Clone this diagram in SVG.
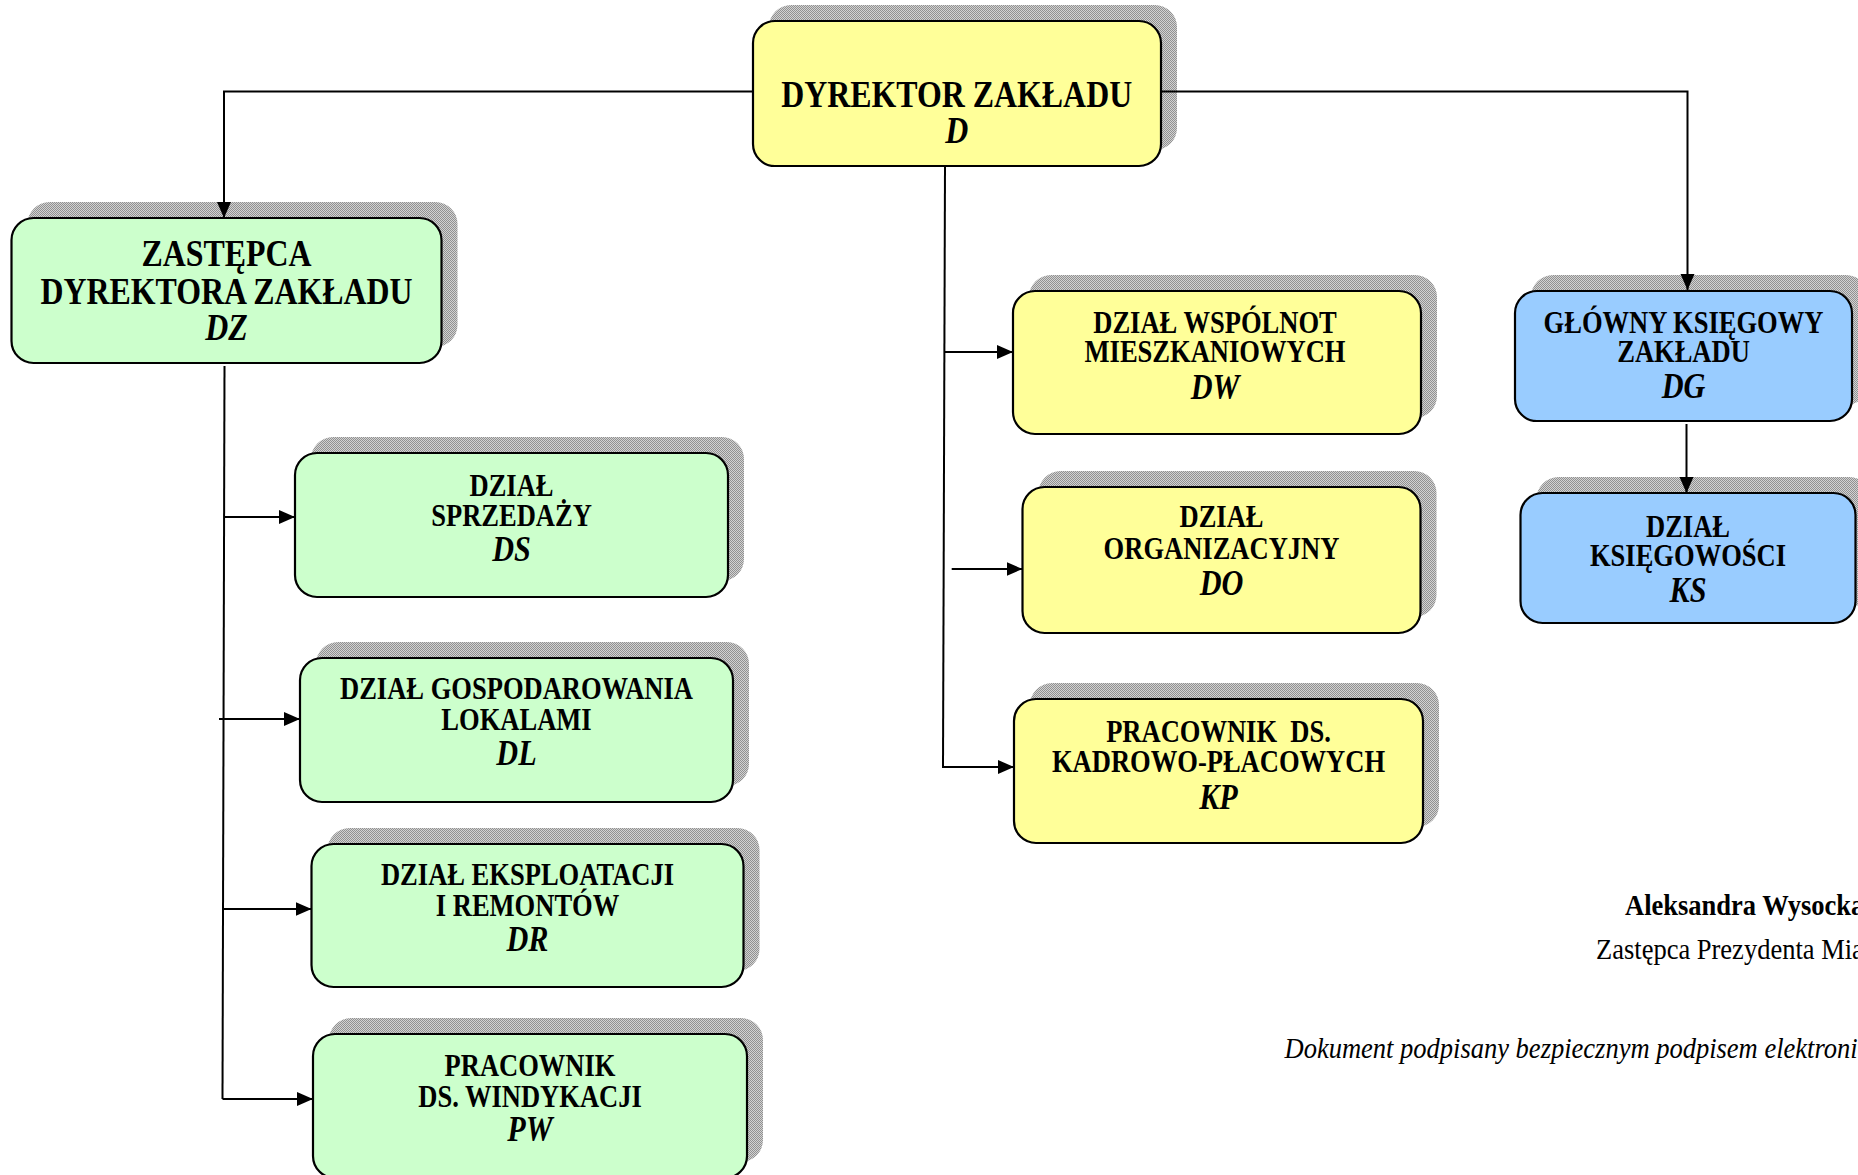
<svg xmlns="http://www.w3.org/2000/svg" width="1858" height="1175" viewBox="0 0 1858 1175">
<defs>
<pattern id="dots" width="2" height="2" patternUnits="userSpaceOnUse">
<rect width="2" height="2" fill="#d2d2d2"/>
<rect width="1" height="1" fill="#919191"/>
<rect x="1" y="1" width="1" height="1" fill="#919191"/>
</pattern>
<marker id="arr" markerUnits="userSpaceOnUse" markerWidth="17" markerHeight="15" refX="16" refY="7" orient="auto">
<path d="M0,0 L16,7 L0,14 z" fill="#000"/>
</marker>
<style>
.sh{fill:url(#dots);}
.bx{stroke:#000;stroke-width:2.2;}
.y{fill:#FFFF99;}
.g{fill:#CCFFCC;}
.b{fill:#99CCFF;}
text{font-family:"Liberation Serif","Times New Roman",serif;fill:#000;}
.c{text-anchor:middle;}
.t{font-weight:bold;font-size:31px;}
.tb{font-weight:bold;font-size:37.5px;}
.k{font-weight:bold;font-style:italic;font-size:36px;}
.kb{font-weight:bold;font-style:italic;font-size:38px;}
.ln{fill:none;stroke:#000;stroke-width:2;}
.sig{font-size:29.8px;}
</style>
</defs>
<rect width="1858" height="1175" fill="#fff"/>

<g id="D">
<rect class="sh" x="769" y="5" width="408" height="145" rx="22"/>
<rect class="bx y" x="753" y="21" width="408" height="145" rx="22"/>
<text class="c tb" transform="translate(956.7 106.5) scale(0.85 1)">DYREKTOR ZAKŁADU</text>
<text class="c kb" transform="translate(956.7 142.5) scale(0.84 1)">D</text>
</g>

<g id="DZ">
<rect class="sh" x="27.5" y="202" width="430" height="145" rx="22"/>
<rect class="bx g" x="11.5" y="218" width="430" height="145" rx="22"/>
<text class="c tb" transform="translate(226.5 265.5) scale(0.85 1)">ZASTĘPCA</text>
<text class="c tb" transform="translate(226.5 304) scale(0.85 1)">DYREKTORA ZAKŁADU</text>
<text class="c kb" transform="translate(226.5 340) scale(0.84 1)">DZ</text>
</g>

<g id="DS">
<rect class="sh" x="311" y="437" width="433" height="144" rx="22"/>
<rect class="bx g" x="295" y="453" width="433" height="144" rx="22"/>
<text class="c t" transform="translate(511.5 495.7) scale(0.856 1)">DZIAŁ</text>
<text class="c t" transform="translate(511.5 525.7) scale(0.856 1)">SPRZEDAŻY</text>
<text class="c k" transform="translate(511.5 560.5) scale(0.84 1)">DS</text>
</g>

<g id="DL">
<rect class="sh" x="316" y="642" width="433" height="144" rx="22"/>
<rect class="bx g" x="300" y="658" width="433" height="144" rx="22"/>
<text class="c t" transform="translate(516.5 699.3) scale(0.856 1)">DZIAŁ GOSPODAROWANIA</text>
<text class="c t" transform="translate(516.5 730) scale(0.856 1)">LOKALAMI</text>
<text class="c k" transform="translate(516.5 764.5) scale(0.84 1)">DL</text>
</g>

<g id="DR">
<rect class="sh" x="327.5" y="828" width="432" height="143" rx="22"/>
<rect class="bx g" x="311.5" y="844" width="432" height="143" rx="22"/>
<text class="c t" transform="translate(527.5 885) scale(0.856 1)">DZIAŁ EKSPLOATACJI</text>
<text class="c t" transform="translate(527.5 916) scale(0.856 1)">I REMONTÓW</text>
<text class="c k" transform="translate(527.5 951) scale(0.84 1)">DR</text>
</g>

<g id="PW">
<rect class="sh" x="329" y="1018" width="434" height="144" rx="22"/>
<rect class="bx g" x="313" y="1034" width="434" height="144" rx="22"/>
<text class="c t" transform="translate(530 1076) scale(0.856 1)">PRACOWNIK</text>
<text class="c t" transform="translate(530 1106.7) scale(0.856 1)">DS. WINDYKACJI</text>
<text class="c k" transform="translate(530 1140.5) scale(0.84 1)">PW</text>
</g>

<g id="DW">
<rect class="sh" x="1029" y="275" width="408" height="143" rx="22"/>
<rect class="bx y" x="1013" y="291" width="408" height="143" rx="22"/>
<text class="c t" transform="translate(1215 332.7) scale(0.856 1)">DZIAŁ WSPÓLNOT</text>
<text class="c t" transform="translate(1215 362.3) scale(0.856 1)">MIESZKANIOWYCH</text>
<text class="c k" transform="translate(1215 398.5) scale(0.84 1)">DW</text>
</g>

<g id="DO">
<rect class="sh" x="1038.5" y="471" width="398" height="146" rx="22"/>
<rect class="bx y" x="1022.5" y="487" width="398" height="146" rx="22"/>
<text class="c t" transform="translate(1221.5 526.7) scale(0.856 1)">DZIAŁ</text>
<text class="c t" transform="translate(1221.5 559.3) scale(0.856 1)">ORGANIZACYJNY</text>
<text class="c k" transform="translate(1221.5 594.5) scale(0.84 1)">DO</text>
</g>

<g id="KP">
<rect class="sh" x="1030" y="683" width="409" height="144" rx="22"/>
<rect class="bx y" x="1014" y="699" width="409" height="144" rx="22"/>
<text class="c t" transform="translate(1218.5 741.7) scale(0.856 1)" style="white-space:pre" xml:space="preserve">PRACOWNIK  DS.</text>
<text class="c t" transform="translate(1218.5 771.7) scale(0.856 1)">KADROWO-PŁACOWYCH</text>
<text class="c k" transform="translate(1218.5 808.5) scale(0.84 1)">KP</text>
</g>

<g id="DG">
<rect class="sh" x="1531" y="275" width="337" height="130" rx="22"/>
<rect class="bx b" x="1515" y="291" width="337" height="130" rx="22"/>
<text class="c t" transform="translate(1683.5 333.3) scale(0.856 1)">GŁÓWNY KSIĘGOWY</text>
<text class="c t" transform="translate(1683.5 362) scale(0.856 1)">ZAKŁADU</text>
<text class="c k" transform="translate(1683.5 398) scale(0.84 1)">DG</text>
</g>

<g id="KS">
<rect class="sh" x="1536.5" y="477" width="335" height="130" rx="22"/>
<rect class="bx b" x="1520.5" y="493" width="335" height="130" rx="22"/>
<text class="c t" transform="translate(1688 536.7) scale(0.856 1)">DZIAŁ</text>
<text class="c t" transform="translate(1688 565.7) scale(0.856 1)">KSIĘGOWOŚCI</text>
<text class="c k" transform="translate(1688 602) scale(0.84 1)">KS</text>
</g>

<g id="connectors">
<path class="ln" d="M752.7,91.5 H224 V218" marker-end="url(#arr)"/>
<path class="ln" d="M1160.7,91.5 H1687.5 V290" marker-end="url(#arr)"/>
<path class="ln" d="M1686.5,424 V493" marker-end="url(#arr)"/>
<path class="ln" d="M945,166 L943,768"/>
<path class="ln" d="M945,352 H1013" marker-end="url(#arr)"/>
<path class="ln" d="M951.7,569 H1022.5" marker-end="url(#arr)"/>
<path class="ln" d="M943,767 H1014" marker-end="url(#arr)"/>
<path class="ln" d="M224.5,366 L222.5,1099"/>
<path class="ln" d="M224,517 H295" marker-end="url(#arr)"/>
<path class="ln" d="M219,719 H300" marker-end="url(#arr)"/>
<path class="ln" d="M223,909 H311.5" marker-end="url(#arr)"/>
<path class="ln" d="M222.5,1099 H313" marker-end="url(#arr)"/>
</g>

<g id="signature">
<text class="sig" font-weight="bold" transform="translate(1625 915) scale(0.89 1)">Aleksandra Wysocka</text>
<text class="sig" transform="translate(1596 959) scale(0.89 1)">Zastępca Prezydenta Mia</text>
<text class="sig" font-style="italic" transform="translate(1284.5 1058) scale(0.89 1)">Dokument podpisany bezpiecznym podpisem elektroni</text>
</g>
</svg>
